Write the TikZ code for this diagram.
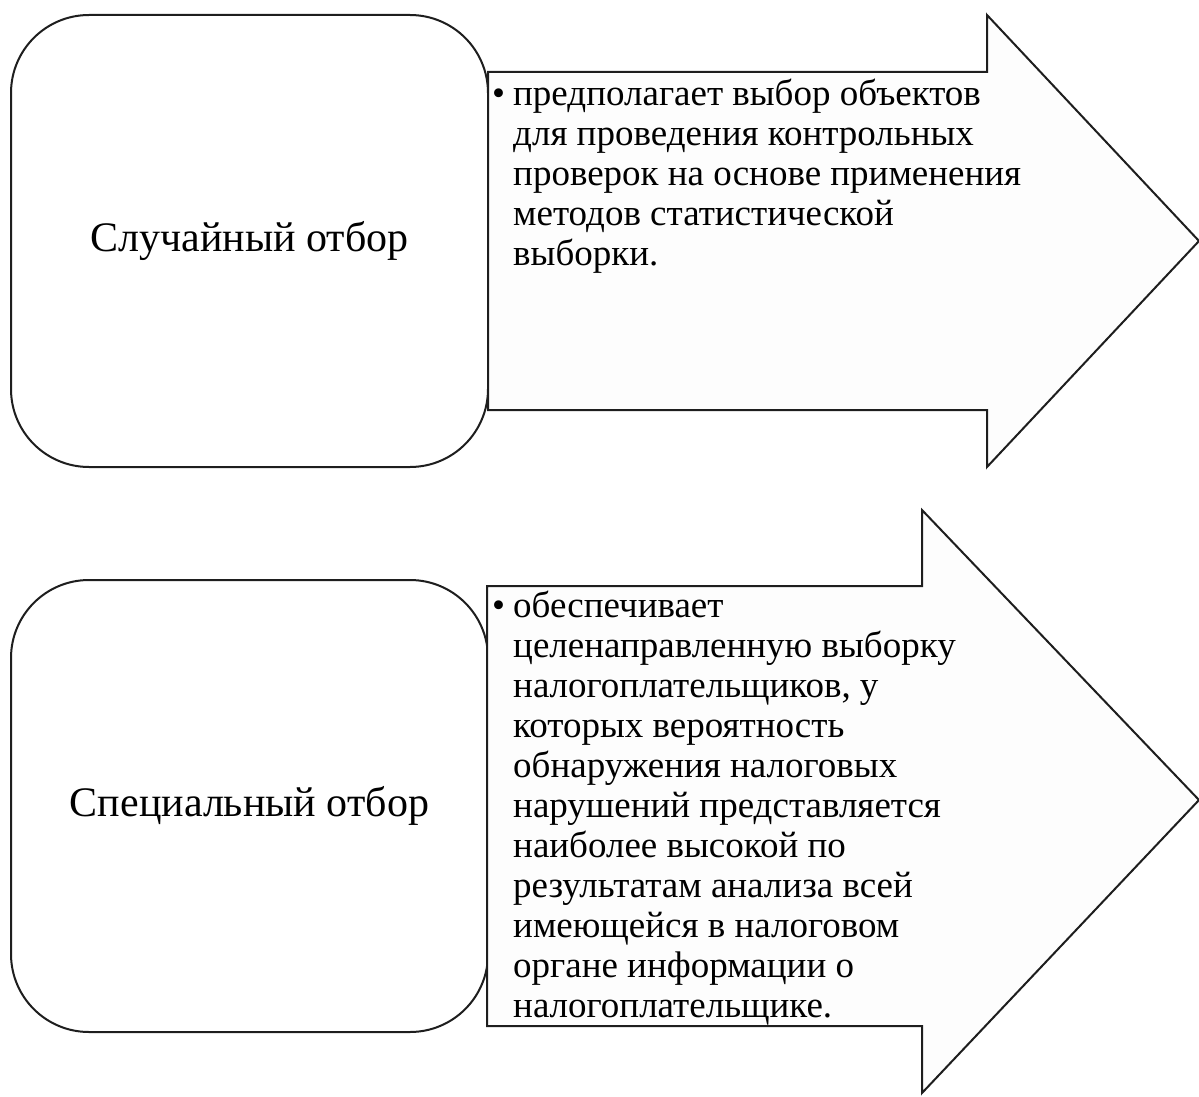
\documentclass[tikz,border=0pt]{standalone}
\usepackage{fontspec}
\setmainfont{Liberation Serif}
\definecolor{edge}{HTML}{1E1E1E}
\definecolor{arrowfill}{HTML}{FDFDFD}
\tikzset{
  titlebox/.style={draw=edge, line width=2pt, fill=white, rounded corners=78pt,
    minimum width=477pt, minimum height=452pt, inner sep=0pt,
    font=\fontsize{42}{48}\selectfont},
  bigarrow/.style={draw=edge, line width=2pt, fill=arrowfill, line join=miter},
  desc/.style={anchor=base west, inner sep=0pt, align=left,
    font=\fontsize{37}{40}\selectfont}
}
\newcommand{\bul}{\makebox[21pt][l]{\textbullet}}
\newcommand{\ind}{\hspace*{21pt}}
\begin{document}
\begin{tikzpicture}[x=1pt,y=-1pt]
\useasboundingbox (0,0) rectangle (1199,1097);
% top row
\node[titlebox] (b1) at (249.5,241) {Случайный отбор};
\path[bigarrow] (488,72) coordinate (a1s) -- (987,72) -- (987,15) -- (1199,241) coordinate (a1t) -- (987,467) -- (987,410) -- (488,410) -- cycle;
\node[desc] (t1) at (492,265) {\bul предполагает выбор объектов\\
\ind для проведения контрольных\\
\ind проверок на основе применения\\
\ind методов статистической\\
\ind выборки.};
% bottom row
\node[titlebox] (b2) at (249.5,806) {Специальный отбор};
\path[bigarrow] (487,586) coordinate (a2s) -- (922,586) -- (922,510) -- (1199,800) coordinate (a2t) -- (922,1093) -- (922,1026) -- (487,1026) -- cycle;
\node[desc] (t2) at (492,1017) {\bul обеспечивает\\
\ind целенаправленную выборку\\
\ind налогоплательщиков, у\\
\ind которых вероятность\\
\ind обнаружения налоговых\\
\ind нарушений представляется\\
\ind наиболее высокой по\\
\ind результатам анализа всей\\
\ind имеющейся в налоговом\\
\ind органе информации о\\
\ind налогоплательщике.};
\end{tikzpicture}
\end{document}
